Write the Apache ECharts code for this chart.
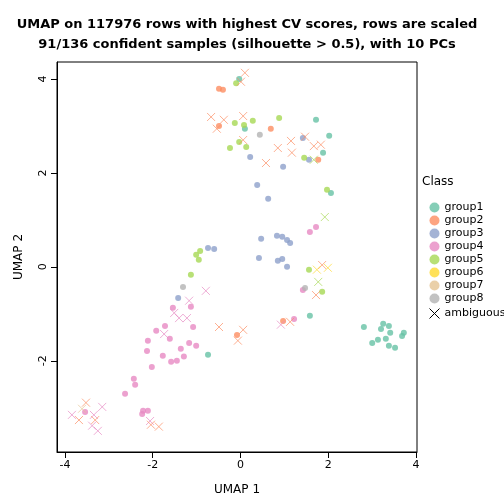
<!DOCTYPE html><html><head><meta charset="utf-8"><script src="https://cdn.jsdelivr.net/npm/echarts@6/dist/echarts.min.js"></script></head><body style="margin:0"><div id="c" style="width:504px;height:504px"></div><script>
const group1=[[-0.03,4.0],[0.10,2.94],[1.72,3.13],[2.02,2.79],[1.88,2.43],[2.06,1.57],[1.58,-1.04],[-0.74,-1.87],[2.81,-1.28],[3.25,-1.21],[3.38,-1.26],[3.20,-1.32],[3.41,-1.40],[3.72,-1.40],[3.68,-1.47],[3.31,-1.53],[3.13,-1.55],[3.0,-1.62],[3.38,-1.68],[3.52,-1.72]];
const group2=[[-0.49,3.79],[-0.40,3.77],[-0.49,3.0],[0.69,2.94],[1.77,2.28],[0.97,-1.15],[-0.08,-1.45]];
const group3=[[1.42,2.74],[1.56,2.28],[0.22,2.34],[0.97,2.13],[0.38,1.74],[0.63,1.45],[-0.74,0.40],[-0.60,0.38],[0.47,0.60],[0.83,0.66],[0.95,0.64],[1.06,0.57],[1.13,0.51],[0.42,0.19],[0.85,0.13],[0.95,0.17],[1.06,0],[-1.42,-0.66]];
const group4=[[1.58,0.74],[1.72,0.85],[1.42,-0.49],[1.22,-1.11],[-1.54,-0.87],[-1.13,-0.85],[-1.72,-1.26],[-1.92,-1.36],[-1.61,-1.53],[-2.11,-1.57],[-1.08,-1.28],[-1.17,-1.62],[-1.01,-1.68],[-2.13,-1.79],[-1.36,-1.74],[-1.77,-1.89],[-1.58,-2.02],[-1.45,-2.0],[-1.29,-1.91],[-2.02,-2.13],[-2.43,-2.38],[-2.40,-2.51],[-2.63,-2.70],[-2.22,-3.06],[-2.11,-3.06],[-2.24,-3.13],[-3.54,-3.09]];
const group5=[[-0.10,3.91],[-0.13,3.06],[0.08,3.02],[0.28,3.11],[0.88,3.17],[-0.03,2.66],[-0.24,2.53],[0.13,2.55],[1.45,2.32],[1.97,1.64],[-0.92,0.34],[-1.01,0.26],[-0.95,0.15],[-1.13,-0.17],[1.56,-0.06],[1.86,-0.53]];
const group6=[];
const group7=[];
const group8=[[0.44,2.81],[-1.31,-0.43],[1.47,-0.45]];
// ambiguous: [x, y, closest class index 0..7]
const ambiguous=[[0.10,4.13,1],[0.01,3.94,1],[-0.67,3.19,1],[-0.38,3.13,1],[0.06,3.21,1],[-0.54,2.94,1],[0.06,2.70,1],[0.85,2.53,1],[1.15,2.68,1],[1.17,2.43,1],[0.58,2.21,1],[1.47,2.77,1],[1.67,2.57,1],[1.83,2.60,1],[1.67,2.28,4],[1.92,1.06,4],[-0.79,-0.51,3],[-1.17,-0.72,3],[-1.51,-0.98,3],[-1.40,-1.09,3],[-1.22,-1.09,3],[-1.74,-1.43,3],[-0.49,-1.28,1],[0.06,-1.34,1],[-0.06,-1.57,1],[0.92,-1.23,3],[1.13,-1.17,1],[1.86,0.04,1],[1.74,-0.06,5],[1.99,-0.02,5],[1.77,-0.32,4],[1.72,-0.60,1],[-3.52,-2.89,1],[-3.15,-2.98,3],[-3.84,-3.15,3],[-3.68,-3.26,1],[-3.34,-3.15,3],[-3.31,-3.26,1],[-3.61,-3.02,6],[-3.38,-3.38,3],[-3.25,-3.49,3],[-2.06,-3.28,3],[-2.04,-3.36,1],[-1.86,-3.40,1]];
const classNames=['group1','group2','group3','group4','group5','group6','group7','group8'];
const colors=['#66C2A5','#FC8D62','#8DA0CB','#E78AC3','#A6D854','#FFD92F','#E5C494','#B3B3B3'];
const ticks=[-4,-2,0,2,4];
const groups=[group1,group2,group3,group4,group5,group6,group7,group8];
const cross='path://M0,0L10,10M10,0L0,10';
const series=groups.map((g,i)=>({name:classNames[i],type:'scatter',data:g,symbol:'circle',symbolSize:6,itemStyle:{color:colors[i]}}));
series.push({name:'ambiguous',type:'scatter',symbol:cross,symbolSize:8,data:ambiguous.map(a=>({value:[a[0],a[1]],itemStyle:{borderColor:colors[a[2]]}})),itemStyle:{color:'none',borderColor:'#000',borderWidth:1,opacity:0.7}});
const ch=echarts.init(document.getElementById('c'));
const ax={type:'value',splitLine:{show:false},axisLine:{show:true,onZero:false,lineStyle:{color:'#000'}},axisTick:{customValues:ticks,length:6,lineStyle:{color:'#000'}},axisLabel:{customValues:ticks,color:'#000',fontSize:11,fontFamily:'DejaVu Sans'},nameLocation:'middle',nameTextStyle:{color:'#000',fontSize:12,fontFamily:'DejaVu Sans'}};
ch.setOption({animation:false,
title:{text:'UMAP on 117976 rows with highest CV scores, rows are scaled\n91/136 confident samples (silhouette > 0.5), with 10 PCs',left:242,textAlign:'center',top:10,textStyle:{fontSize:13,fontWeight:'bold',color:'#000',lineHeight:20,fontFamily:'DejaVu Sans'}},
grid:{left:57,right:87,top:62,bottom:52,show:true,borderColor:'#000',borderWidth:1},
xAxis:Object.assign({},ax,{min:-4.18,max:4.02,name:'UMAP 1',nameGap:32}),
yAxis:Object.assign({},ax,{min:-3.94,max:4.36,name:'UMAP 2',nameGap:32,axisLabel:Object.assign({},ax.axisLabel,{rotate:90})}),
legend:{orient:'vertical',left:422,top:197,itemGap:2,itemWidth:10,itemHeight:10,textStyle:{fontSize:11,color:'#000',fontFamily:'DejaVu Sans'},
data:classNames.map((n,i)=>({name:n,icon:'circle',itemStyle:{color:colors[i]}})).concat([{name:'ambiguous',icon:cross,itemStyle:{color:'none',borderColor:'#000',borderWidth:1,opacity:1}}])},
graphic:[{type:'text',left:422,top:176,style:{text:'Class',fontSize:12,fill:'#000',fontFamily:'DejaVu Sans'}}],
series:series});
</script></body></html>
